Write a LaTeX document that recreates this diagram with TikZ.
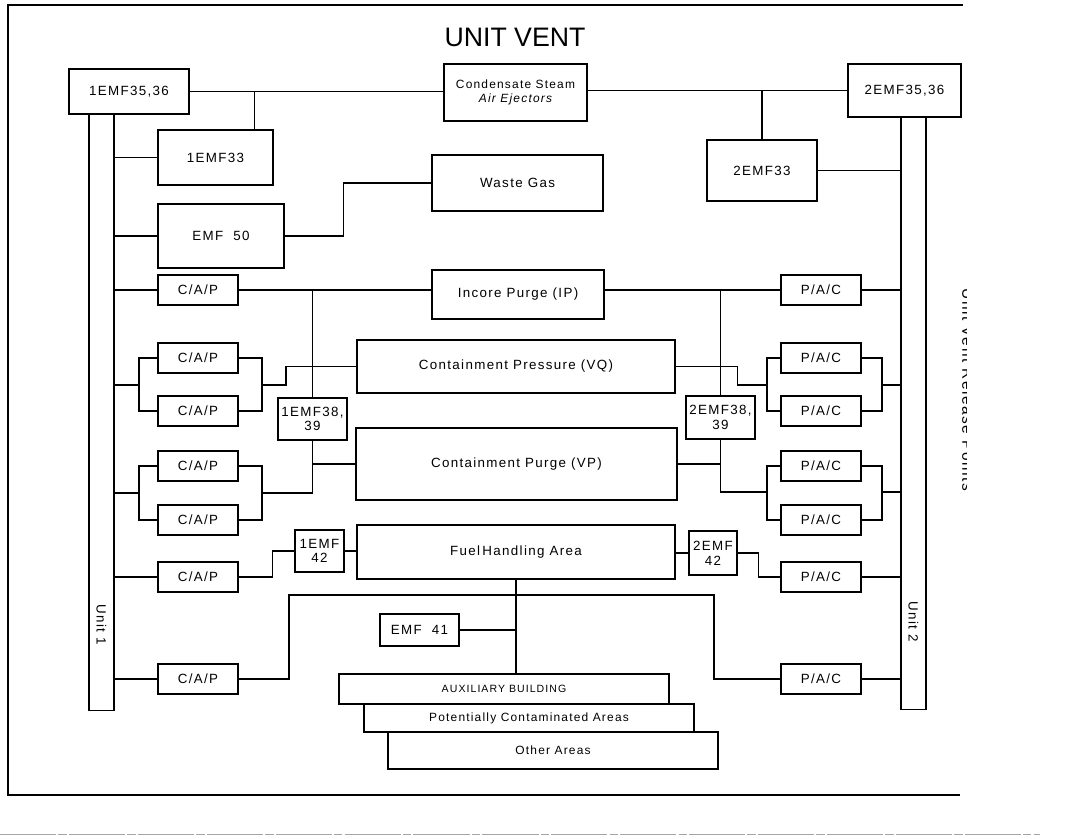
\documentclass[tikz,border=0pt]{standalone}
\usepackage{fontspec}
\setmainfont{Liberation Sans}
\newfontfamily\boxfont[LetterSpace=10]{Liberation Sans}
\usetikzlibrary{positioning,calc}

\begin{document}
\begin{tikzpicture}[
    x=0.025cm, y=-0.025cm,
    line width=0.8pt,
    % Estilos
    box/.style={draw, inner sep=1pt, align=center, font=\boxfont\fontsize{9.5}{10.5}\selectfont},
    capbox/.style={box, minimum width=2cm, minimum height=0.75cm},
    areabox/.style={box, minimum width=8.25cm},
    unitbar/.style={draw, minimum width=0.625cm},
    lbl/.style={font=\boxfont\fontsize{9.5}{11}\selectfont, rotate=-90, inner sep=0pt},
    ttl/.style={font=\fontsize{19}{22}\selectfont}
]
\useasboundingbox (0,0) rectangle (1069,839);

% --- MARCO ---
\draw (963,5) -- (8,5) -- (8,795) -- (960,795);
\draw[line width=0.4pt, black!35, dash pattern=on 40pt off 1.5pt on 6pt off 1.5pt] (0,834) -- (1040,834);
\node[ttl] (title) at (515,37) {UNIT VENT};

% --- NODOS ---
\node[box, minimum width=3cm, minimum height=1.125cm] (emfa) at (129,91.5) {1EMF35,36};
\node[box, minimum width=2.825cm, minimum height=1.325cm] (emfb) at (904.5,90.5) {2EMF35,36};
\node[box, minimum width=3.575cm, minimum height=1.425cm, font=\boxfont\fontsize{8.5}{10}\selectfont] (csae) at (515.5,92.5)
    {Condensate Steam\\\itshape Air Ejectors};
\node[box, minimum width=2.875cm, minimum height=1.375cm] (emf33a) at (215.5,157.5) {1EMF33};
\node[box, minimum width=2.75cm, minimum height=1.525cm] (emf33b) at (762,170.5) {2EMF33};
\node[box, minimum width=3.15cm, minimum height=1.6cm] (emf50) at (221,236) {EMF\ \ 50};
\node[box, minimum width=4.275cm, minimum height=1.4cm] (wgas) at (517.5,183) {Waste Gas};

\node[box, minimum width=4.3cm, minimum height=1.225cm] (ip) at (518,294.5) {Incore Purge (IP)};
\node[box, minimum width=7.95cm, minimum height=1.325cm] (vq) at (516,366.5) {Containment Pressure (VQ)};
\node[box, minimum width=8.025cm, minimum height=1.8cm] (vp) at (516.5,464) {Containment Purge (VP)};
\node[box, minimum width=7.95cm, minimum height=1.35cm] (fha) at (516,552) {Fuel\,Handling Area};

\node[box, minimum width=1.725cm, minimum height=1.05cm] (emf38a) at (312.5,419) {1EMF38,\\39};
\node[box, minimum width=1.725cm, minimum height=1.075cm] (emf38b) at (720.5,417.5) {2EMF38,\\39};
\node[box, minimum width=1.225cm, minimum height=1.05cm] (emf42a) at (319.5,551) {1EMF\\42};
\node[box, minimum width=1.2cm, minimum height=1.1cm] (emf42b) at (713,553) {2EMF\\42};
\node[box, minimum width=1.975cm, minimum height=0.8cm] (emf41) at (419.5,630) {EMF\ \ 41};

\node[areabox, minimum height=0.75cm, font=\boxfont\fontsize{7.5}{9}\selectfont] (aux) at (504,689) {AUXILIARY BUILDING};
\node[areabox, minimum height=0.7cm, font=\boxfont\fontsize{8.5}{10}\selectfont] (pca) at (529,718) {Potentially Contaminated Areas};
\node[areabox, minimum height=0.925cm, font=\boxfont\fontsize{8.5}{10}\selectfont] (oth) at (553,750.5) {Other Areas};

\node[unitbar, minimum height=14.9cm] (unit1) at (101.5,412) {};
\node[unitbar, minimum height=14.8cm] (unit2) at (913.5,413) {};
\node[lbl] (u1) at (101.5,625) {Unit 1};
\node[lbl] (u2) at (913.5,622) {Unit 2};

\foreach \n/\y in {ip/290,q1/358,q2/411,p1/466,p2/520,f/577,b/679}{
    \node[capbox] (cap\n) at (198,\y) {C/A/P};
    \node[capbox] (pac\n) at (821,\y) {P/A/C};
}

\begin{scope}
    \clip (940,250) rectangle (966,520);
    \node[lbl, font=\boxfont\fontsize{11}{13}\selectfont] (rel) at (968,390) {Unit Vent Release Points};
\end{scope}

% --- CONEXIONES ---
\coordinate (qL) at (139,385);  \coordinate (qR) at (262,385);
\coordinate (pL) at (139,493);  \coordinate (pR) at (262,493);
\coordinate (qL2) at (767,385); \coordinate (qR2) at (882,385);
\coordinate (pL2) at (767,492); \coordinate (pR2) at (882,492);
\coordinate (bL) at (289,595);  \coordinate (bR) at (714,595);

% arriba
\draw (emfa.east) -- (emfa.east -| csae.west);
\coordinate (t1) at ($(emf33a.north east)+(-19,0)$);
\draw (t1) -- (t1 |- emfa.east);
\draw (csae.east |- emfb.west) -- (emfb.west);
\draw (emf33b.north) -- (emf33b.north |- emfb.west);
\draw (emf33a.west) -- (emf33a.west -| unit1.east);
\draw (emf50.west) -- (emf50.west -| unit1.east);
\draw (emf50.east) -- ++(59,0) |- (wgas.west);
\draw (emf33b.east) -- (emf33b.east -| unit2.west);

% barras
\foreach \n in {ip,f,b}{
    \draw (cap\n.west) -- (cap\n.west -| unit1.east);
    \draw (pac\n.east) -- (pac\n.east -| unit2.west);
}
\draw (capq1.west) -| (qL) |- (capq2.west);
\draw (capq1.east) -| (qR) |- (capq2.east);
\draw (capp1.west) -| (pL) |- (capp2.west);
\draw (capp1.east) -| (pR) |- (capp2.east);
\draw (pacq1.west) -| (qL2) |- (pacq2.west);
\draw (pacq1.east) -| (qR2) |- (pacq2.east);
\draw (pacp1.west) -| (pL2) |- (pacp2.west);
\draw (pacp1.east) -| (pR2) |- (pacp2.east);
\draw (qL) -- (qL -| unit1.east);
\draw (pL) -- (pL -| unit1.east);
\draw (qR2) -- (qR2 -| unit2.west);
\draw (pR2) -- (pR2 -| unit2.west);

% IP, VQ, VP
\draw (capip.east) -- (capip.east -| ip.west);
\draw (ip.east |- pacip.west) -- (pacip.west);
\draw (capip.east -| emf38a.north) -- (emf38a.north);
\draw (pacip.west -| emf38b.north) -- (emf38b.north);
\draw (qR) -- ++(24,0) |- (vq.west);
\draw (vq.east) -- ++(62,0) |- (qL2);
\draw (emf38a.south) |- (pR);
\draw (emf38a.south |- vp.west) -- (vp.west);
\draw (emf38b.south) |- (pL2);
\draw (vp.east) -- (vp.east -| emf38b.south);

% FHA
\draw (capf.east) -- ++(34,0) |- (emf42a.west);
\draw (emf42a.east) -- (emf42a.east -| fha.west);
\draw (emf42b.west -| fha.east) -- (emf42b.west);
\draw (emf42b.east) -- ++(21,0) |- (pacf.west);

% abajo
\draw (capb.east) -| (bL) -- (bR) |- (pacb.west);
\draw (fha.south) -- (fha.south |- aux.north);
\draw (emf41.east) -- (emf41.east -| fha.south);

\end{tikzpicture}
\end{document}
